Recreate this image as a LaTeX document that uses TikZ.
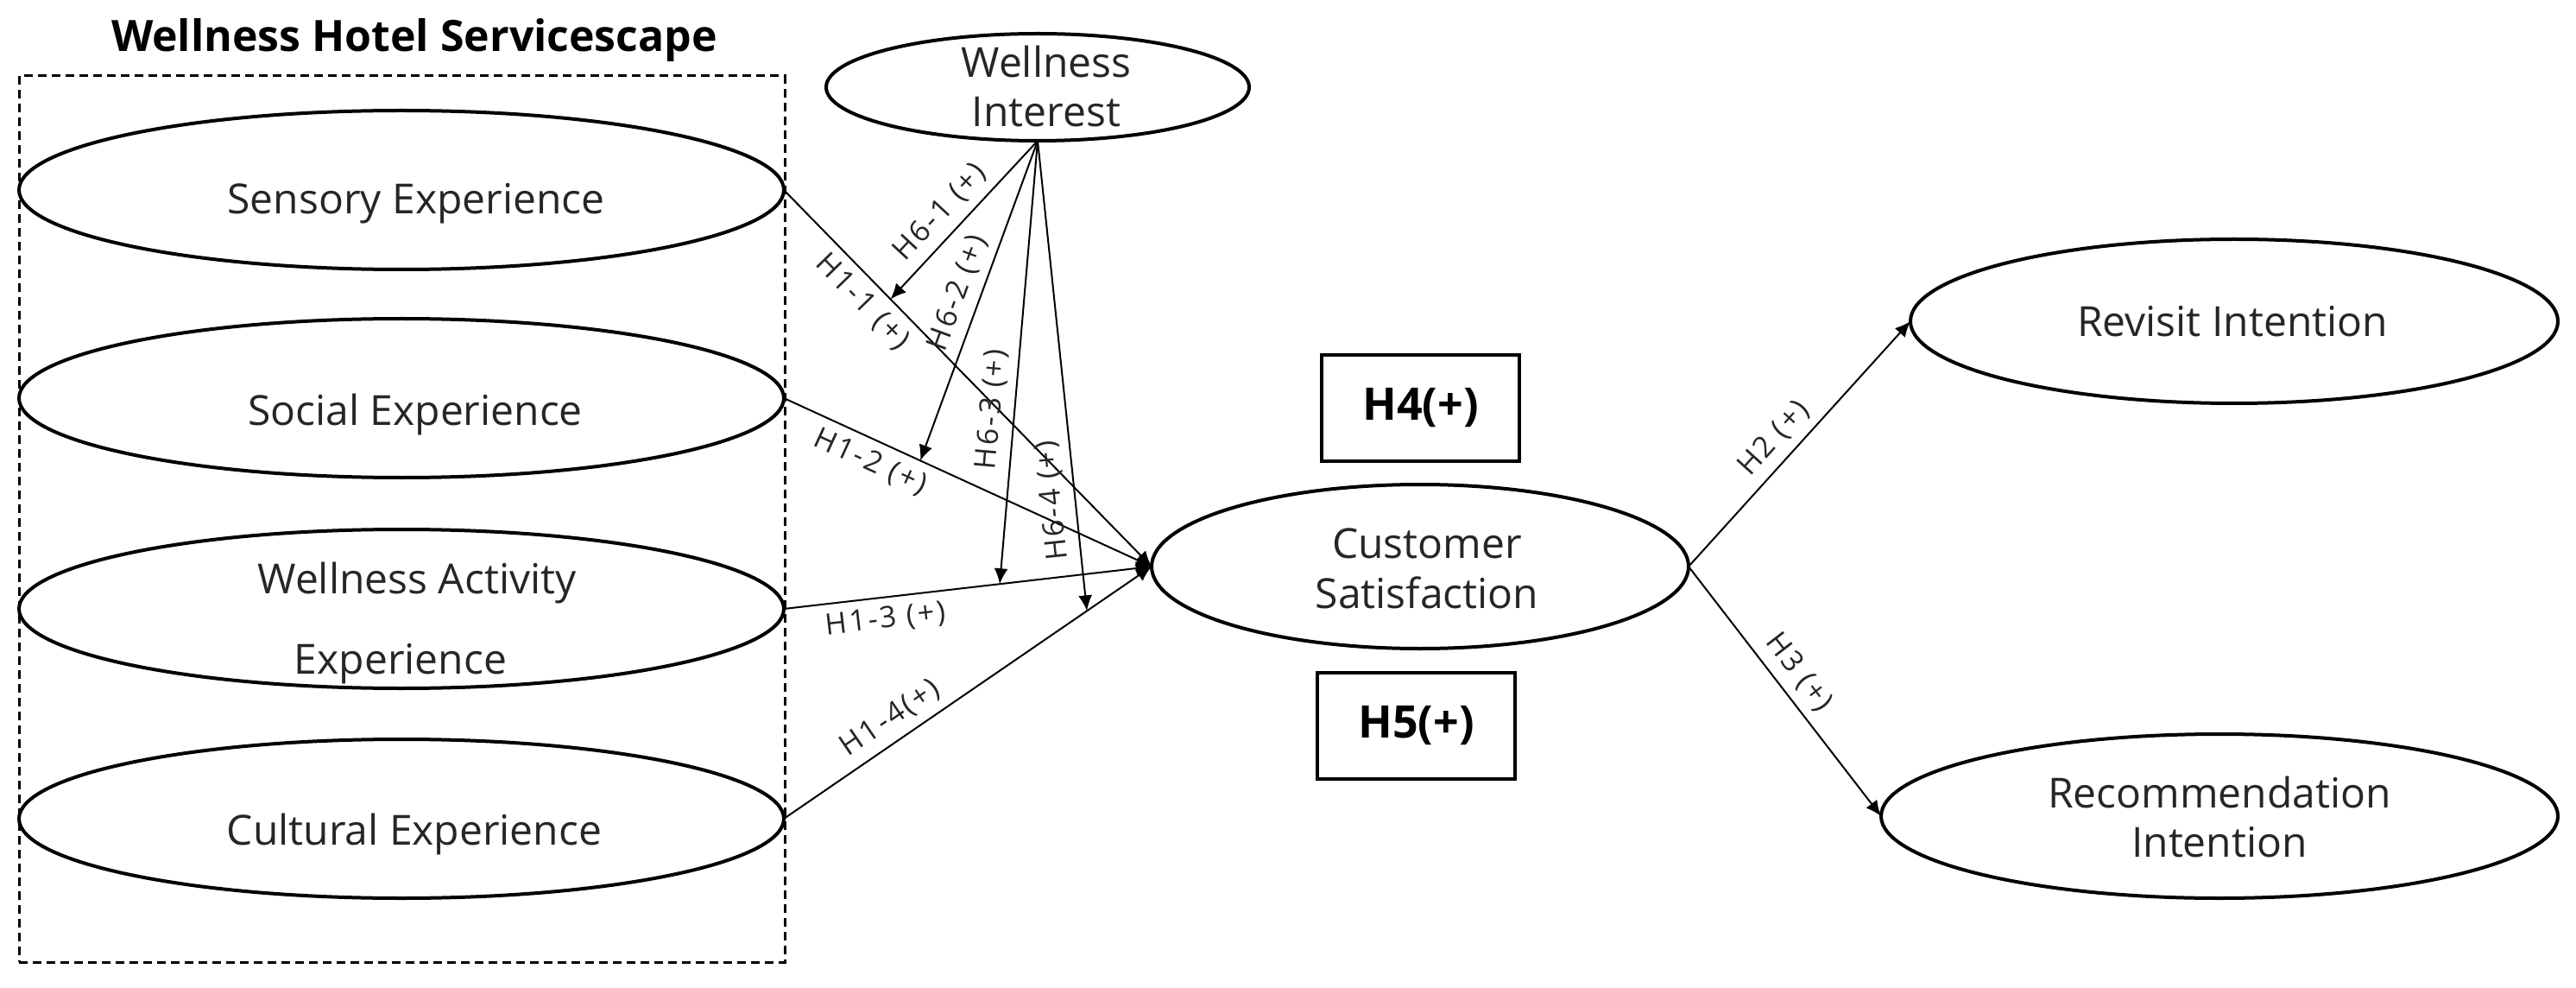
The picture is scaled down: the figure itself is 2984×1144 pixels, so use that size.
\documentclass[tikz,border=0pt]{standalone}
\usepackage{fontspec}
\setmainfont{Open Sans}
\newfontfamily\lblfont[LetterSpace=8]{Open Sans}
\usetikzlibrary{shapes.geometric,arrows.meta,calc}
\begin{document}
\begin{tikzpicture}[x=0.25pt,y=-0.25pt,
  ell/.style={ellipse,draw,line width=1pt,inner sep=0pt,outer sep=0pt},
  txt/.style={anchor=base,inner sep=0pt,font=\fontsize{12}{14}\selectfont,text=black!85},
  hbox/.style={draw,line width=1pt,inner sep=0pt,outer sep=0pt,minimum width=229*0.25pt,minimum height=123*0.25pt,font=\bfseries\fontsize{13}{15}\selectfont},
  conn/.style={line width=0.5pt,-{Latex[length=4.5pt,width=4pt]}},
  connr/.style={line width=0.5pt,{Latex[length=4.5pt,width=4pt]}-},
  lbl/.style={sloped,font=\lblfont\fontsize{8.5}{10}\selectfont,inner sep=2.5pt,text=black!85}
]
\useasboundingbox (0,0) rectangle (2984,1144);
\fill[white] (0,0) rectangle (2984,1144);

% title and frame
\node[anchor=base,inner sep=0pt,font=\bfseries\fontsize{12.5}{15}\selectfont] (title) at (480,60) {Wellness Hotel Servicescape};
\node[draw,line width=0.75pt,dash pattern=on 2.5pt off 1.5pt,inner sep=0pt,outer sep=0pt,
      minimum width=887*0.25pt,minimum height=1026*0.25pt] (frame) at (465.5,601) {};

% ellipses
\node[ell,minimum width=886*0.25pt,minimum height=184*0.25pt] (sens) at (465,220) {};
\node[ell,minimum width=886*0.25pt,minimum height=184*0.25pt] (soc)  at (465,461) {};
\node[ell,minimum width=886*0.25pt,minimum height=184*0.25pt] (wa)   at (465,705) {};
\node[ell,minimum width=886*0.25pt,minimum height=184*0.25pt] (cul)  at (465,948) {};
\node[ell,minimum width=490*0.25pt,minimum height=124*0.25pt] (wi)   at (1202,101) {};
\node[ell,minimum width=622*0.25pt,minimum height=190*0.25pt] (cs)   at (1645,656) {};
\node[ell,minimum width=750*0.25pt,minimum height=190*0.25pt] (rev)  at (2588,372) {};
\node[ell,minimum width=784*0.25pt,minimum height=190*0.25pt] (rec)  at (2571,945) {};

% texts
\node[txt] (sensT) at (482,248) {Sensory Experience};
\node[txt] (socT)  at (481,492) {Social Experience};
\node[txt] (waT1)  at (483,687) {Wellness Activity};
\node[txt] (waT2)  at (464,780) {Experience};
\node[txt] (culT)  at (480,978) {Cultural Experience};
\node[txt] (wiT1)  at (1212,90) {Wellness};
\node[txt] (wiT2)  at (1212,147) {Interest};
\node[txt] (csT1)  at (1653,646) {Customer};
\node[txt] (csT2)  at (1653,704) {Satisfaction};
\node[txt] (revT)  at (2586,390) {Revisit Intention};
\node[txt] (recT1) at (2571,935) {Recommendation};
\node[txt] (recT2) at (2571,992) {Intention};

% H4 / H5 boxes
\node[hbox] (h4) at (1645.5,472.5) {H4(+)};
\node[hbox] (h5) at (1640.5,840.5) {H5(+)};

% H1 paths
\draw[conn] (sens.east) -- node[lbl,below,pos=0.256]{H1-1 (+)} (cs.west);
\draw[conn] (soc.east)  -- node[lbl,below,pos=0.26]{H1-2 (+)} (cs.west);
\draw[conn] (wa.east)   -- node[lbl,below,pos=0.27]{H1-3 (+)} (cs.west);
\draw[conn] (cul.east)  -- node[lbl,above,pos=0.324]{H1-4(+)} (cs.west);

% H6 moderating paths
\coordinate (t1) at ($(sens.east)!0.29!(cs.west)$);
\coordinate (t2) at ($(soc.east)!0.371!(cs.west)$);
\coordinate (t3) at ($(wa.east)!0.587!(cs.west)$);
\coordinate (t4) at ($(cul.east)!0.824!(cs.west)$);
\draw[conn] (wi.south) -- node[lbl,above,pos=0.55]{H6-1 (+)} (t1);
\draw[conn] (wi.south) -- node[lbl,above,pos=0.50]{H6-2 (+)} (t2);
\draw[conn] (wi.south) -- node[lbl,above,pos=0.61]{H6-3 (+)} (t3);
\draw[connr] (t4) -- node[lbl,above,pos=0.24,allow upside down]{H6-4 (+)} (wi.south);

% H2 / H3
\draw[conn] (cs.east) -- node[lbl,above,pos=0.46]{H2 (+)} (rev.west);
\draw[conn] (cs.east) -- node[lbl,above,pos=0.48]{H3 (+)} (rec.west);
\end{tikzpicture}
\end{document}
